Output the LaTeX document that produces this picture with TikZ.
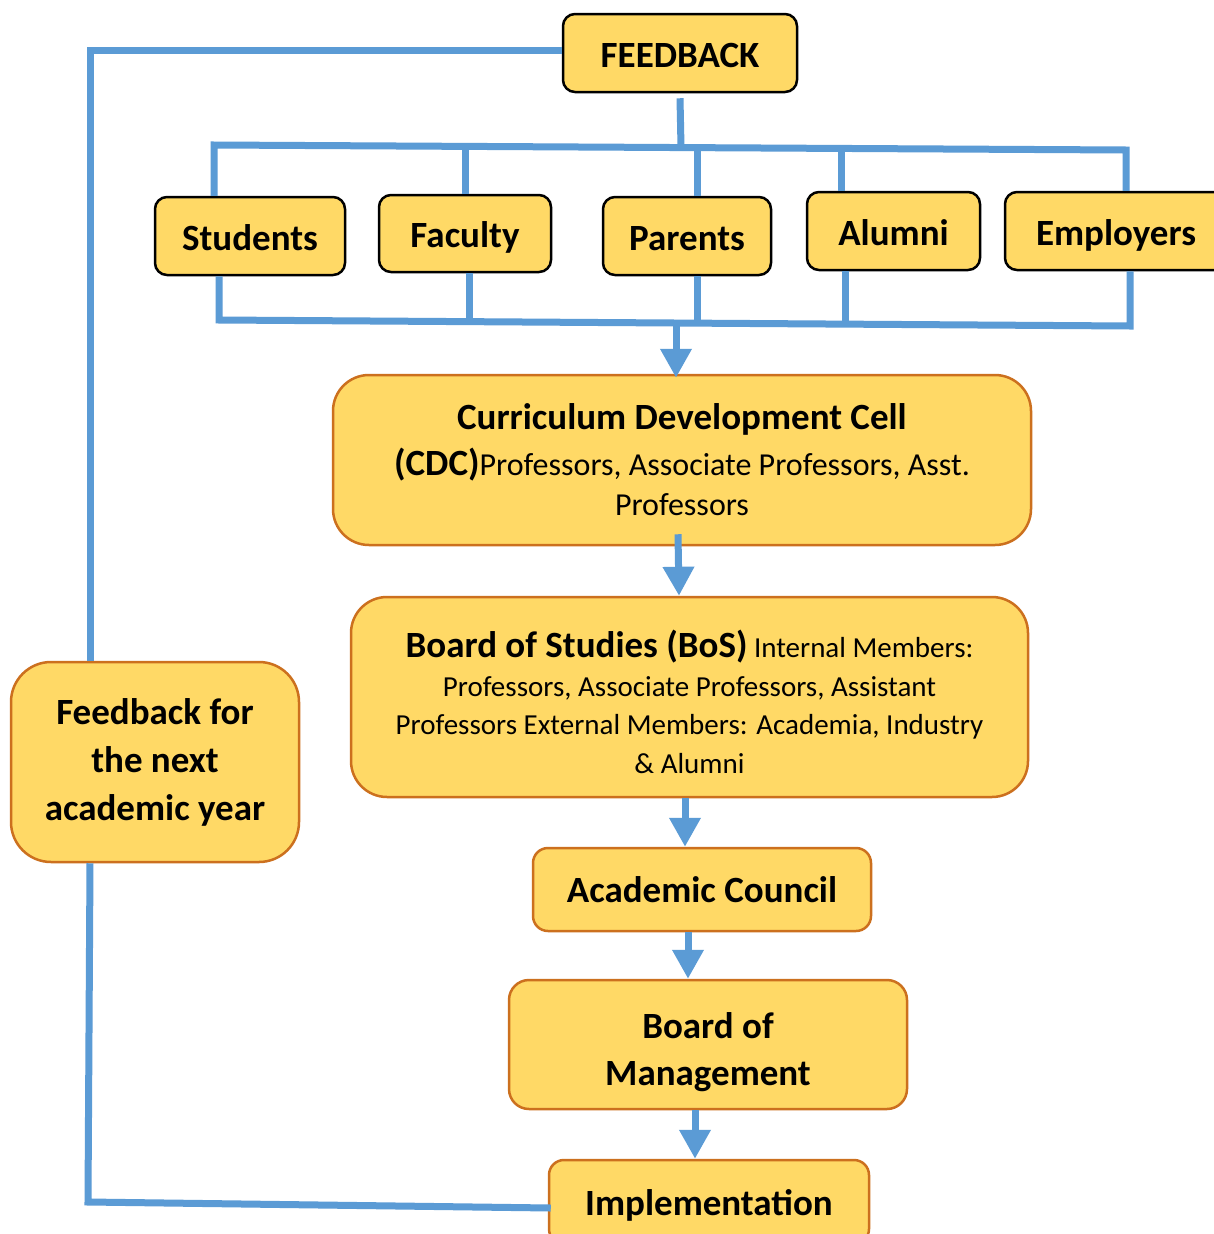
\documentclass[tikz,border=0pt]{standalone}
\usepackage{fontspec}
\setmainfont{Carlito}
\usetikzlibrary{arrows.meta}
\definecolor{boxfill}{RGB}{255,217,102}
\definecolor{boxorange}{RGB}{204,112,30}
\definecolor{linkblue}{RGB}{91,155,213}
\begin{document}
\begin{tikzpicture}[x=1pt,y=-1pt,
 topbox/.style={draw=black, line width=2.5pt, fill=boxfill, rounded corners=12pt, inner sep=0pt, font=\fontsize{37}{48}\selectfont\bfseries, align=center, text height=28pt, text depth=0pt},
 orbox/.style={draw=boxorange, line width=2.5pt, fill=boxfill, inner sep=0pt, align=center},
 boldtxt/.style={font=\fontsize{37}{48}\selectfont\bfseries},
 link/.style={draw=linkblue, line width=7pt},
 arr/.style={link, -{Triangle[width=30pt,length=29pt]}},
]
\useasboundingbox[fill=white] (0,0) rectangle (1214,1234);

% top row
\node[topbox, minimum width=234pt, minimum height=78pt] (fb) at (680,53) {FEEDBACK};
\node[topbox, minimum width=190pt, minimum height=78pt] (st) at (250,236) {Students};
\node[topbox, minimum width=172pt, minimum height=77pt] (fa) at (465,233.5) {Faculty};
\node[topbox, minimum width=168pt, minimum height=78pt] (pa) at (687,236) {Parents};
\node[topbox, minimum width=173pt, minimum height=78pt] (al) at (893.5,231) {Alumni};
\node[topbox, minimum width=222pt, minimum height=78pt] (em) at (1116,231) {Employers};

% main chain
\node[orbox, rounded corners=36pt, minimum width=698pt, minimum height=170pt,
      font=\fontsize{32}{40}\selectfont] (cdc) at (682,460)
 {{\fontsize{37}{44}\selectfont\bfseries Curriculum Development Cell}\\[6pt]
  {\fontsize{37}{44}\selectfont\bfseries (CDC)}Professors, Associate Professors, Asst.\\
  Professors};
\node[orbox, rounded corners=36pt, minimum width=677pt, minimum height=200pt,
      font=\fontsize{29}{38.7}\selectfont, text height=153pt, text depth=0pt] (bos) at (689.5,697)
 {{\fontsize{37}{38.7}\selectfont\bfseries Board of Studies (BoS)} Internal Members:\\
  Professors, Associate Professors, Assistant\\
  Professors External Members: Academia, Industry\\
  \& Alumni};
\node[orbox, boldtxt, rounded corners=40pt, minimum width=288pt, minimum height=200pt] (fn) at (155,762)
 {Feedback for\\the next\\academic year};
\node[orbox, boldtxt, rounded corners=15pt, minimum width=338pt, minimum height=83pt] (ac) at (702,889.5) {Academic Council};
\node[orbox, font=\fontsize{37}{47}\selectfont\bfseries, rounded corners=20pt, minimum width=398pt, minimum height=129pt, text height=82.5pt, text depth=0pt] (bom) at (708,1044.5)
 {Board of\\Management};
\node[orbox, boldtxt, rounded corners=15pt, minimum width=320pt, minimum height=84pt, text depth=0pt] (im) at (709,1202) {Implementation};

% bus coordinates
\coordinate (tb0) at (681,147);
\coordinate (tb1) at (214,145);
\coordinate (tb2) at (465,146.5);
\coordinate (tb3) at (697,147.5);
\coordinate (tb4) at (841,148.5);
\coordinate (tb5) at (1126,150);
\coordinate (bb1) at (219,320);
\coordinate (bb2) at (469,321.5);
\coordinate (bb3) at (697,323);
\coordinate (bb4) at (845,324);
\coordinate (bb5) at (1130,326);
\coordinate (bbm) at (676,322.5);
\coordinate (lc) at (88,1202);

% top bus
\draw[link] ([yshift=-5pt]fb.south) -- (tb0);
\draw[link] (st.north -| tb1) -- (tb1) -- (tb5) -- (em.north -| tb5);
\draw[link] (tb2) -- (fa.north -| tb2);
\draw[link] (tb3) -- (pa.north -| tb3);
\draw[link] (tb4) -- (al.north -| tb4);

% bottom bus
\draw[link] (st.south -| bb1) -- (bb1) -- (bb5) -- (em.south -| bb5);
\draw[link] (fa.south -| bb2) -- (bb2);
\draw[link] (pa.south -| bb3) -- (bb3);
\draw[link] (al.south -| bb4) -- (bb4);
\draw[arr] (bbm) -- ([yshift=-4pt]bbm |- cdc.north);

% chain arrows
\draw[arr] ([yshift=12pt]678,0 |- cdc.south) -- (679,0 |- bos.north);
\draw[arr] (685,0 |- bos.south) -- (685,0 |- ac.north);
\draw[arr] (688,0 |- ac.south) -- (688,0 |- bom.north);
\draw[arr] (695,0 |- bom.south) -- (695,0 |- im.north);

% feedback loop
\draw[link] ([yshift=3pt]fb.west) -- ([yshift=3pt]90,0 |- fb.west) -- (90,0 |- fn.north);
\draw[link] (90,0 |- fn.south) -- (lc) -- ([xshift=3pt,yshift=-6pt]im.west);
\end{tikzpicture}
\end{document}
